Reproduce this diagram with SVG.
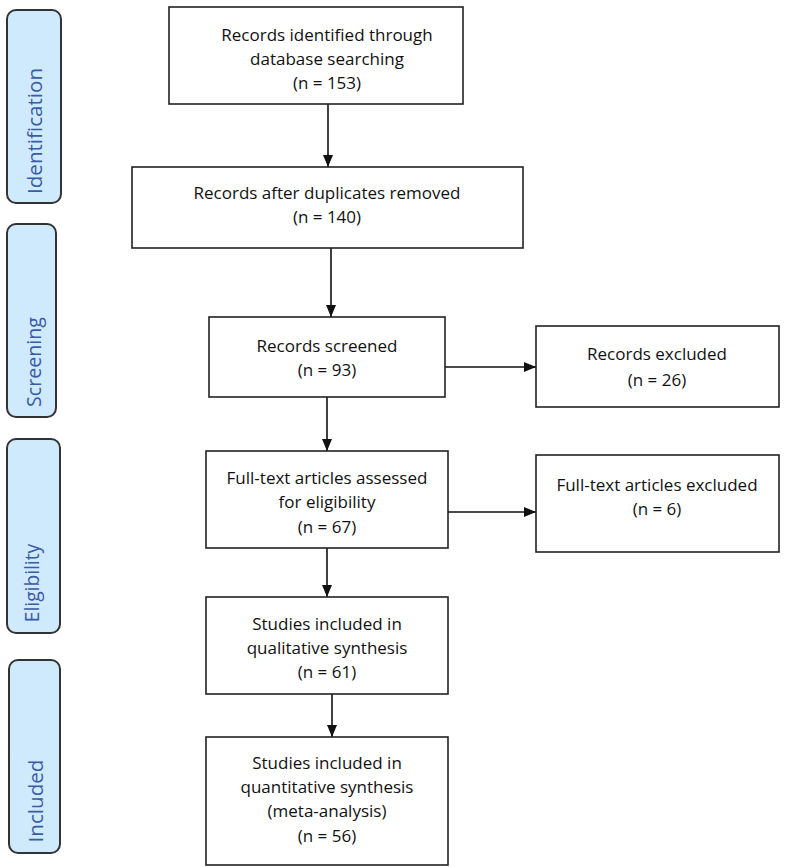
<svg xmlns="http://www.w3.org/2000/svg" width="785" height="867" viewBox="0 0 785 867">
<style>
.box{fill:#ffffff;stroke:#222;stroke-width:1.6}
.side{fill:#cfe9fd;stroke:#333;stroke-width:2}
.t{font-family:"Open Sans","Liberation Sans",Arial,sans-serif;font-size:17px;fill:#111;text-anchor:middle}
.s{font-family:"Open Sans","Liberation Sans",sans-serif;fill:#3a5ba6;text-anchor:middle}
.c{stroke:#111;stroke-width:1.6;fill:none;marker-end:url(#ah)}
</style>
<defs>
<marker id="ah" viewBox="0 0 12 10" refX="12" refY="5" markerWidth="12" markerHeight="10" markerUnits="userSpaceOnUse" orient="auto">
<path d="M0,0 L12,5 L0,10 Z" fill="#111"/>
</marker>
</defs>
<rect width="785" height="867" fill="#ffffff"/>
<g id="phase-identification">
<rect class="side" x="7" y="10" width="54" height="193" rx="9"/>
<text class="s" font-size="20.6" transform="translate(42,131) rotate(-90)">Identification</text>
</g>
<g id="phase-screening">
<rect class="side" x="7" y="224" width="49" height="193" rx="9"/>
<text class="s" font-size="19.6" transform="translate(41,362) rotate(-90)">Screening</text>
</g>
<g id="phase-eligibility">
<rect class="side" x="7" y="439" width="53" height="194" rx="9"/>
<text class="s" font-size="19.2" transform="translate(39,583) rotate(-90)">Eligibility</text>
</g>
<g id="phase-included">
<rect class="side" x="9" y="660" width="51" height="193" rx="9"/>
<text class="s" font-size="20.6" transform="translate(43,801) rotate(-90)">Included</text>
</g>
<g id="connectors">
<line class="c" x1="328" y1="104" x2="328" y2="167"/>
<line class="c" x1="331" y1="248" x2="331" y2="317"/>
<line class="c" x1="327" y1="397" x2="327" y2="451"/>
<line class="c" x1="327" y1="548" x2="327" y2="597"/>
<line class="c" x1="332" y1="694" x2="332" y2="737"/>
<line class="c" x1="445" y1="367" x2="536" y2="367"/>
<line class="c" x1="448" y1="512" x2="536" y2="512"/>
</g>
<g id="n1">
<rect class="box" x="169" y="7" width="294" height="97"/>
<text class="t" x="327" y="41">Records identified through</text>
<text class="t" x="327" y="65">database searching</text>
<text class="t" x="327" y="89">(n = 153)</text>
</g>
<g id="n2">
<rect class="box" x="132" y="167" width="391" height="81"/>
<text class="t" x="327" y="199">Records after duplicates removed</text>
<text class="t" x="327" y="223">(n = 140)</text>
</g>
<g id="n3">
<rect class="box" x="209" y="317" width="236" height="80"/>
<text class="t" x="327" y="352">Records screened</text>
<text class="t" x="327" y="376">(n = 93)</text>
</g>
<g id="n4">
<rect class="box" x="536" y="326" width="243" height="81"/>
<text class="t" x="657" y="360">Records excluded</text>
<text class="t" x="657" y="386">(n = 26)</text>
</g>
<g id="n5">
<rect class="box" x="206" y="451" width="242" height="97"/>
<text class="t" x="327" y="484">Full-text articles assessed</text>
<text class="t" x="327" y="508">for eligibility</text>
<text class="t" x="327" y="533">(n = 67)</text>
</g>
<g id="n6">
<rect class="box" x="536" y="455" width="243" height="97"/>
<text class="t" x="657" y="491">Full-text articles excluded</text>
<text class="t" x="657" y="515">(n = 6)</text>
</g>
<g id="n7">
<rect class="box" x="206" y="597" width="242" height="97"/>
<text class="t" x="327" y="630">Studies included in</text>
<text class="t" x="327" y="654">qualitative synthesis</text>
<text class="t" x="327" y="678">(n = 61)</text>
</g>
<g id="n8">
<rect class="box" x="206" y="737" width="242" height="128"/>
<text class="t" x="327" y="769">Studies included in</text>
<text class="t" x="327" y="793">quantitative synthesis</text>
<text class="t" x="327" y="817">(meta-analysis)</text>
<text class="t" x="327" y="842">(n = 56)</text>
</g>
</svg>
